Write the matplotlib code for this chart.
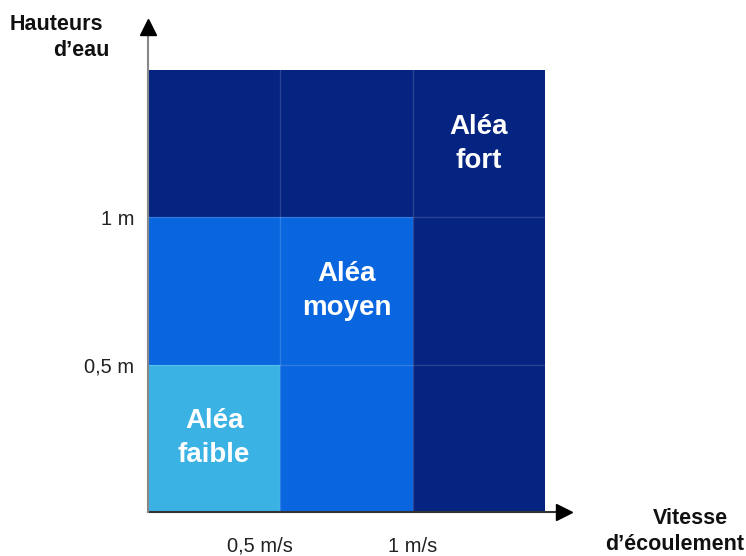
import matplotlib.pyplot as plt
import numpy as np
from matplotlib.colors import ListedColormap
from matplotlib.transforms import ScaledTranslation

plt.rcParams['font.family'] = ['Liberation Sans', 'DejaVu Sans']

# grid edges (vitesse in m/s, hauteur in m)
vitesse_edges = [0, 0.5, 1, 1.5]
hauteur_edges = [0, 0.5, 1, 1.5]
# hazard level per cell, rows from bottom: 0 faible, 1 moyen, 2 fort
alea = np.array([[0, 1, 2],
                 [1, 1, 2],
                 [2, 2, 2]])
alea_labels = ['Aléa\nfaible', 'Aléa\nmoyen', 'Aléa\nfort']
label_cells = [(0, 0), (1, 1), (2, 2)]   # (col, row) where each label sits
x_ticks = [0.5, 1]
x_ticklabels = ['0,5 m/s', '1 m/s']
y_ticks = [0.5, 1]
y_ticklabels = ['0,5 m', '1 m']

colors = ['#3bb2e4', '#0a66df', '#052380']

fig = plt.figure(figsize=(7.46, 5.56), dpi=100)
ax = fig.add_axes([148/746, 44/556, 397/746, 442/556])

ax.pcolormesh(vitesse_edges, hauteur_edges, alea, cmap=ListedColormap(colors),
              vmin=-0.5, vmax=2.5)

# faint grid lines between cells
for v in vitesse_edges[1:-1]:
    ax.axvline(v, color='white', alpha=0.15, lw=1)
for h in hauteur_edges[1:-1]:
    ax.axhline(h, color='white', alpha=0.15, lw=1)

for lab, (c, r) in zip(alea_labels, label_cells):
    xc = (vitesse_edges[c] + vitesse_edges[c + 1]) / 2
    yc = (hauteur_edges[r] + hauteur_edges[r + 1]) / 2
    ax.text(xc, yc, lab, color='white', fontsize=20, fontweight='bold',
            ha='center', va='center', linespacing=1.4)

ax.set_xlim(vitesse_edges[0], vitesse_edges[-1])
ax.set_ylim(hauteur_edges[0], hauteur_edges[-1])
for s in ax.spines.values():
    s.set_visible(False)

ax.set_xticks(x_ticks)
ax.set_xticklabels(x_ticklabels, fontsize=14.5, color='#222222')
ax.set_yticks(y_ticks)
ax.set_yticklabels(y_ticklabels, fontsize=14.5, color='#222222')
ax.tick_params(length=0, pad=10)
ax.tick_params(axis='x', pad=18)
lbl = ax.get_xticklabels()[0]
lbl.set_transform(lbl.get_transform() + ScaledTranslation(-0.2, 0, fig.dpi_scale_trans))

# axis arrows
ax.plot([0, 1.048], [0, 0], transform=ax.transAxes, color='#333333', lw=1.5, clip_on=False)
ax.plot([1.048], [0], transform=ax.transAxes, marker='>', color='black', ms=11, clip_on=False)
ax.plot([0, 0], [0, 1.097], transform=ax.transAxes, color='#888888', lw=1.5, clip_on=False)
ax.plot([0], [1.097], transform=ax.transAxes, marker='^', color='black', ms=11, clip_on=False)

title_kw = dict(ha='right', va='center', fontsize=15.5, fontweight='bold', color='#111111')
fig.text(103/746, 1 - 25/556, 'Hauteurs', **title_kw)
fig.text(110/746, 1 - 50/556, 'd\u2019eau', **title_kw)
fig.text(728/746, 1 - 519/556, 'Vitesse', **title_kw)
fig.text(744/746, 1 - 544/556, 'd\u2019écoulement', **title_kw)

fig.savefig('out.png', dpi=100)
